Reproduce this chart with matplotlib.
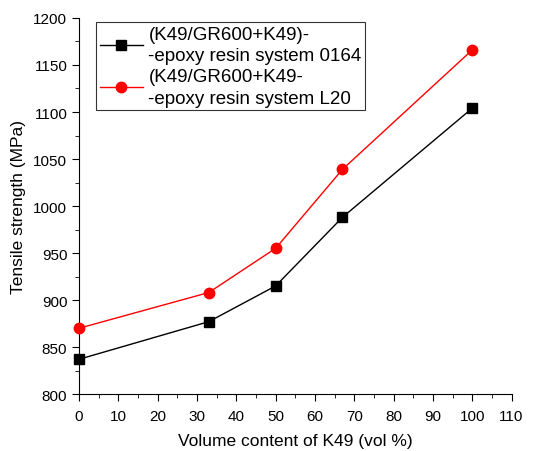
import matplotlib
matplotlib.use("Agg")
import matplotlib.pyplot as plt
from matplotlib.ticker import MultipleLocator

plt.rcParams['font.family'] = ['Liberation Sans', 'DejaVu Sans']

x = [0, 33, 50, 67, 100]
y_0164 = [837, 877, 915, 988, 1104]
y_L20 = [870, 908, 955, 1039, 1166]
label_0164 = "(K49/GR600+K49)-\n-epoxy resin system 0164"
label_L20 = "(K49/GR600+K49-\n-epoxy resin system L20"

fig = plt.figure(figsize=(5.53, 4.52), dpi=100)
ax = fig.add_axes([0.143, 0.126, 0.782, 0.832])

ax.plot(x, y_0164, 'ks-', lw=1, ms=7, label=label_0164, clip_on=False, zorder=3)
ax.plot(x, y_L20, 'o-', color='red', lw=1, ms=7.5, label=label_L20, clip_on=False, zorder=3)

ax.set_xlim(0, 110)
ax.set_ylim(800, 1200)
ax.xaxis.set_major_locator(MultipleLocator(10))
ax.xaxis.set_minor_locator(MultipleLocator(5))
ax.yaxis.set_major_locator(MultipleLocator(50))
ax.yaxis.set_minor_locator(MultipleLocator(25))
ax.spines['top'].set_visible(False)
ax.spines['right'].set_visible(False)
ax.tick_params(which='major', direction='out', length=5, labelsize=11)
ax.tick_params(axis='x', which='major', pad=6)
ax.tick_params(which='minor', direction='out', length=3)
ax.set_xlabel('Volume content of K49 (vol %)', fontsize=12.5, labelpad=7)
ax.set_ylabel('Tensile strength (MPa)', fontsize=12.5, labelpad=5)

leg = ax.legend(loc='upper left', bbox_to_anchor=(0.039, 0.989), fontsize=13.5,
                frameon=True, fancybox=False, edgecolor='black', handlelength=2.3,
                borderpad=0.2, labelspacing=0.2, handletextpad=0.3, borderaxespad=0)
leg.get_frame().set_linewidth(0.8)
for t in leg.get_texts():
    t.set_linespacing(1.35)

plt.savefig("out.png")
